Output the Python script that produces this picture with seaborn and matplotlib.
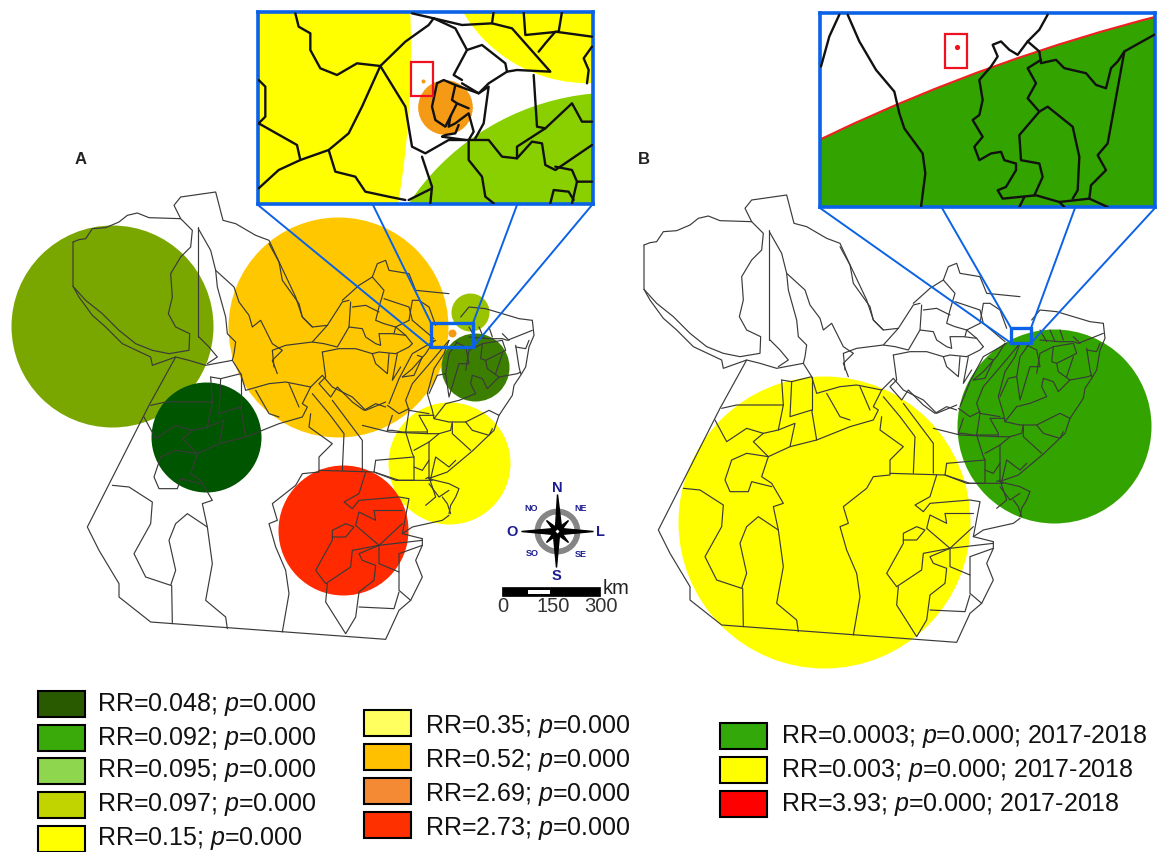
import matplotlib
matplotlib.use("Agg")
import matplotlib.pyplot as plt
from matplotlib.patches import Rectangle
import seaborn as sns

# Limites tracados do mapa (unidades: 3 por pixel)
map_lines = [
    [(12,165),(12,298),(30,330),(70,385),(110,420),(160,470),(245,510),(250,535),(320,510),(360,520),(410,535),(490,520),(515,560)],
    [(12,165),(30,158),(50,155),(70,125),(110,122),(150,105),(175,85),(205,78),(240,92),(335,95),(315,55),(335,30),(440,15),(462,100),(500,110),(560,145),(600,160),(635,235),(680,330),(700,390),(730,420)],
    [(12,298),(50,340),(100,380),(150,430),(200,470),(250,490),(300,500),(360,490),(362,440),(320,420),(298,380),(310,330),(305,260),(335,210),(365,180),(370,130),(335,95)],
    [(388,120),(388,450)],
    [(388,125),(425,190),(440,250),(495,300),(510,345),(540,385),(550,420),(575,400),(610,470),(640,490),(610,520),(625,560)],
    [(440,250),(445,300),(470,390),(475,440),(500,465),(495,500),(490,520)],
    [(390,450),(420,480),(445,510),(415,530)],
    [(320,510),(240,655),(55,1020),(90,1090),(150,1190),(150,1230),(245,1305),(950,1357),(990,1270),(1025,1240),(1060,1170),(1040,1120),(1060,1075),(1060,1055)],
    [(245,655),(290,645),(430,645),(415,720)],
    [(425,570),(455,575),(515,560),(530,610),(600,590),(650,585),(725,600),(760,565),(790,600),(850,630),(890,670),(950,645)],
    [(425,570),(430,645)],
    [(455,575),(450,680),(515,660),(530,750)],
    [(515,560),(515,660)],
    [(225,690),(260,755),(320,715),(370,730),(340,755),(385,800),(450,770),(530,750),(630,710),(700,690),(715,660),(700,650),(725,600)],
    [(560,610),(600,680),(630,690)],
    [(660,590),(690,660)],
    [(370,730),(415,720),(465,700),(450,770)],
    [(385,800),(365,860),(395,880),(430,940),(400,950),(415,1020),(430,1130),(410,1240),(470,1290),(475,1325)],
    [(385,800),(320,790),(275,810),(255,870),(270,905),(325,905),(335,875),(395,890)],
    [(130,895),(180,900),(250,945),(245,1010),(195,1100),(230,1170),(305,1195),(320,1150),(300,1060),(320,1010),(355,980),(415,1020)],
    [(308,1195),(310,1310)],
    [(725,680),(720,720),(790,770),(750,810),(750,855),(700,860),(680,895),(610,950),(625,1000),(600,1010),(620,1080),(650,1150),(660,1220),(640,1335)],
    [(750,850),(915,855),(990,880),(1090,880)],
    [(730,620),(780,680),(825,740),(820,850)],
    [(790,640),(850,720),(880,760),(880,850)],
    [(880,715),(960,735),(1075,740)],
    [(890,855),(870,920),(825,945),(850,965),(870,940),(990,930),(1020,935),(1000,1040),(1060,1055)],
    [(915,970),(1000,970)],
    [(915,970),(920,1000),(870,975),(860,1015),(930,1075),(1000,1010)],
    [(1060,1060),(930,1075),(850,1090),(845,1140),(770,1190),(740,1150),(790,1060),(790,1030),(830,1010),(855,1020),(830,1050),(790,1050)],
    [(930,1075),(870,1100),(880,1120),(920,1135),(915,1180),(870,1215),(860,1290),(830,1340),(770,1245),(775,1190)],
    [(930,1075),(930,1130),(990,1155),(990,1100),(1060,1075)],
    [(990,1155),(990,1210),(1025,1240)],
    [(870,1260),(975,1265),(990,1215)],
    [(1000,1040),(1030,1020),(1120,1000),(1140,985)],
]

# Recorte nordeste (origem 900, 330)
ne_lines = [
    [(490,70),(495,115),(480,150),(470,210),(455,235),(435,265),(430,295),(390,355),(375,400),(310,462),(235,525),(178,545),(240,560),(270,575),(260,600),(245,625),(240,650)],
    [(490,70),(450,65),(400,50),(350,35),(300,30),(275,60)],
    [(240,130),(225,170),(195,215),(175,290),(190,340),(195,365),(230,320),(270,310),(320,290),(305,260),(310,235),(340,245),(355,275),(390,240),(445,230),(455,225)],
    [(195,365),(240,375),(290,375),(360,340),(390,355)],
    [(195,355),(150,355),(175,400),(175,410),(210,410),(245,400),(250,375)],
    [(120,340),(180,350)],
    [(120,340),(110,310),(130,260),(190,190),(240,130)],
    [(55,325),(90,350),(120,335)],
    [(120,340),(110,405),(130,470),(135,480),(135,510),(160,520),(180,490),(180,435),(210,410)],
    [(55,400),(70,400),(100,405),(175,405)],
    [(70,355),(55,400)],
    [(250,380),(250,410),(305,460)],
    [(290,375),(310,400),(360,415),(370,395)],
    [(180,435),(135,460)],
    [(180,490),(180,540),(170,545)],
    [(185,545),(200,480),(240,510),(260,490)],
    [(20,490),(135,480)],
    [(20,490),(15,525),(80,550),(135,550),(135,510)],
    [(100,240),(130,215),(170,170),(195,130)],
    [(100,240),(135,235),(160,180),(145,175)],
    [(60,320),(90,245),(130,170),(200,130)],
    [(180,290),(205,235),(230,230),(240,170),(265,135)],
    [(230,230),(240,300),(270,200),(300,200),(290,150),(260,135)],
    [(290,220),(300,160),(340,140),(400,130),(410,160),(350,190),(355,215),(390,240)],
    [(340,140),(335,185),(350,190)],
    [(400,170),(380,230)],
    [(440,145),(450,210),(455,230)],
    [(440,150),(470,155),(480,130)],
    [(300,120),(360,125),(400,125),(415,130),(490,100)],
    [(300,90),(320,125)],
    [(360,90),(370,120)],
    [(330,90),(345,125)],
    [(400,110),(420,130)],
    [(240,580),(210,600),(180,560)],
    [(220,600),(235,620),(245,650)],
    [(180,540),(200,600),(170,625)],
]

# Recorte norte (origem 600, 150)
north_lines = [
    [(0,20),(30,75),(40,130),(90,200),(100,240),(130,270),(175,265),(220,195),(240,190)],
    [(175,265),(130,315),(50,325),(10,340),(15,390)],
    [(220,190),(270,145),(310,120),(325,80),(350,70),(360,100),(420,110),(440,160),(490,165),(540,170)],
    [(310,120),(345,160),(330,210),(320,250),(345,260),(380,270),(375,290)],
    [(250,210),(290,205),(330,225)],
    [(245,195),(240,270),(205,330),(165,320),(130,315)],
    [(240,270),(280,275),(290,300),(320,320),(335,325),(330,290),(370,290),(410,295),(430,320)],
    [(160,345),(210,335),(260,335),(310,350),(330,345),(380,350),(420,330),(430,320)],
    [(160,345),(170,420),(150,440),(185,480),(205,450),(250,495),(285,520),(320,500),(350,510)],
    [(310,350),(320,380),(355,410),(360,350)],
    [(385,350),(370,430),(395,390)],
    [(345,185),(420,210),(430,250),(495,305)],
    [(420,250),(430,190),(450,190),(480,210),(500,265)],
    [(420,250),(380,270),(410,295)],
]

# Circulos do painel A e B em pixels: x, y, raio, cor
a_x = [112, 206, 338, 470, 475, 449, 343, 452]
a_y = [326, 437, 327, 312, 367, 463, 530, 333]
a_r = [101, 55, 110, 19, 34, 61, 65, 4]
a_colors = ["#7aa600", "#005500", "#ffc700", "#9bc400", "#3c7f00", "#ffff00", "#ff2a00", "#f59a15"]

b_x = [824, 1054]
b_y = [522, 426]
b_r = [146, 97]
b_colors = ["#ffff00", "#33a300"]

# Detalhe A
inset_a_x = [-2323, 1016, 1098, 590, 522]
inset_a_y = [147, -187, 1020, 320, 242]
inset_a_r = [2810, 434, 744, 82, 6]
inset_a_colors = ["#ffff00", "#ffff00", "#8ad000", "#f59a15", "#f59a15"]

inset_a_lines = [
    [(140,40),(150,80),(185,100),(185,150),(215,205),(265,225),(325,190),(395,198),(470,125),(540,75),(555,55),(490,40)],
    [(395,198),(340,320),(300,400),(240,450),(155,480),(90,510),(30,565)],
    [(30,370),(145,435),(155,480)],
    [(240,450),(260,515),(320,530),(350,575),(420,590),(470,600)],
    [(395,198),(470,320),(490,440),(530,460),(600,420),(660,420)],
    [(520,470),(550,560),(545,610)],
    [(480,600),(550,565)],
    [(555,55),(620,85),(655,150),(615,225),(640,240)],
    [(655,150),(700,135),(770,190),(775,215),(720,250),(690,280),(640,250)],
    [(775,215),(805,210),(905,215),(790,85),(730,70),(640,75),(555,55)],
    [(730,70),(735,35)],
    [(825,35),(830,105),(930,95),(940,35)],
    [(870,155),(890,130),(920,95),(1030,110)],
    [(855,225),(865,380),(890,385),(970,310),(1000,365),(1030,365)],
    [(890,385),(805,440),(805,475),(850,425),(880,430),(890,495),(920,510),(1030,435)],
    [(660,420),(720,420),(760,470),(805,475)],
    [(660,420),(660,480),(700,530),(710,590),(735,610)],
    [(920,500),(970,510),(985,545),(1030,545)],
    [(985,545),(970,610)],
    [(905,610),(915,570),(960,575),(975,600)],
    [(565,250),(585,240),(620,255),(610,300),(625,310),(605,350),(600,380),(620,370),(660,340),(675,395),(660,420)],
    [(565,250),(550,320),(560,360),(590,380),(605,350)],
    [(620,255),(690,280),(720,260),(705,370),(680,415)],
    [(625,310),(660,325)],
    [(630,375),(620,400),(590,405),(580,410),(650,420)],
    [(1030,140),(1005,175),(1020,210),(1015,250)],
    [(30,240),(50,260),(50,350),(30,370)],
]

# Detalhe B
inset_b_x = [2386]
inset_b_y = [5278]
inset_b_r = [5415]
inset_b_colors = ["#33a300"]

inset_b_lines = [
    [(35,200),(60,110),(90,45)],
    [(115,45),(150,125),(200,210),(255,275),(270,340),(285,385),(340,460),(348,520),(335,620)],
    [(715,45),(690,90),(655,125),(625,165),(600,150),(575,125),(550,135),(565,170),(545,200),(510,240),(520,300),(510,345),(490,360),(520,410),(495,440),(510,480),(545,460),(575,455),(585,480),(620,490),(620,510),(590,560),(565,570),(580,595),(680,585),(750,605),(840,595),(895,620)],
    [(655,125),(690,155),(695,190),(740,180),(765,205),(830,220),(860,255),(890,265),(905,205),(925,185),(945,155),(1035,105)],
    [(695,180),(655,205),(680,250),(655,295),(690,335),(715,320),(790,380),(810,470),(805,570),(790,595)],
    [(690,335),(630,405),(635,480),(690,490),(700,530),(675,585)],
    [(945,155),(895,430),(865,465),(890,510),(845,555),(840,595)],
    [(630,620),(645,590)],
    [(750,605),(765,620)],
]

# Legendas
legend_a1 = ["0.048", "0.092", "0.095", "0.097", "0.15"]
legend_a1_colors = ["#2a5a00", "#3aaa0a", "#8fd64f", "#c2d400", "#ffff00"]
legend_a1_y = [704, 738, 771, 805, 839]
legend_a2 = ["0.35", "0.52", "2.69", "2.73"]
legend_a2_colors = ["#ffff60", "#ffc000", "#f58a35", "#ff3000"]
legend_a2_y = [723, 757, 791, 825]
legend_b = ["0.0003", "0.003", "3.93"]
legend_b_colors = ["#33a80a", "#ffff00", "#ff0000"]
legend_b_y = [736, 770, 804]

BLUE = "#0b62e6"
NAVY = "#1c1c90"

sns.set_theme(style="white")
plt.rcParams["font.family"] = ["Liberation Sans", "DejaVu Sans"]
plt.rcParams["mathtext.fontset"] = "custom"
plt.rcParams["mathtext.it"] = "Liberation Sans:italic"
plt.rcParams["mathtext.rm"] = "Liberation Sans"


def draw_line(ax, pts, color, lw, zorder=3):
    sns.lineplot(x=[p[0] for p in pts], y=[p[1] for p in pts], sort=False, estimator=None,
                 color=color, linewidth=lw, zorder=zorder, ax=ax, legend=False)


def draw_circles(ax, xs, ys, rs, colors, scale=1.0, edge=None):
    for x, y, r, c in zip(xs, ys, rs, colors):
        size = (2 * r * scale * 0.72) ** 2
        sns.scatterplot(x=[x], y=[y], s=size, color=c, linewidth=1.5 if edge else 0,
                        edgecolor=edge if edge else c, zorder=2, ax=ax, legend=False)


def draw_map(ax, x0, y0):
    for pts in map_lines:
        draw_line(ax, [(x0 + p[0] / 3, y0 + p[1] / 3) for p in pts], "#3a3a3a", 0.85)
    for pts in ne_lines:
        draw_line(ax, [(x0 + (p[0] + 900) / 3, y0 + (p[1] + 330) / 3) for p in pts], "#3a3a3a", 0.85)
    for pts in north_lines:
        draw_line(ax, [(x0 + (p[0] + 600) / 3, y0 + (p[1] + 150) / 3) for p in pts], "#3a3a3a", 0.85)


def finish_inset(ax, xlim, ylim, red_box):
    ax.add_patch(Rectangle((red_box[0], red_box[1]), red_box[2], red_box[3], fill=False,
                           edgecolor="#f01020", linewidth=1.6, zorder=5))
    ax.set_xlim(*xlim)
    ax.set_ylim(*ylim)
    ax.set_xticks([])
    ax.set_yticks([])
    ax.set_xlabel("")
    ax.set_ylabel("")
    for s in ax.spines.values():
        s.set_visible(True)
        s.set_color(BLUE)
        s.set_linewidth(2.6)


def draw_compass(ax, cx, cy):
    ax.add_patch(plt.Circle((cx, cy), 20, fill=False, edgecolor="#858585", linewidth=4.2, zorder=4))
    spikes = [((0, -37), (4, -4), (-2, -3)), ((-1, 36), (-4, 4), (2, 3)),
              ((36, 0), (3, 3), (3, -3)), ((-36, 0), (-3, -3), (-3, 3)),
              ((-11, -11), (-3, 0), (0, -3)), ((11, -11), (3, 0), (0, -3)),
              ((-11, 11), (-3, 0), (0, 3)), ((11, 11), (3, 0), (0, 3))]
    for pts in spikes:
        ax.fill([cx + p[0] for p in pts], [cy + p[1] for p in pts], color="black", zorder=5)
    big = dict(color=NAVY, fontsize=10.5, fontweight="bold", ha="center", va="center")
    small = dict(color=NAVY, fontsize=6.5, fontweight="bold", ha="center", va="center")
    ax.text(cx, cy - 44, "N", **big)
    ax.text(cx - 1, cy + 44, "S", **big)
    ax.text(cx - 45, cy, "O", **big)
    ax.text(cx + 43, cy, "L", **big)
    ax.text(cx - 26, cy - 23, "NO", **small)
    ax.text(cx + 23, cy - 23, "NE", **small)
    ax.text(cx - 25, cy + 22, "SO", **small)
    ax.text(cx + 23, cy + 23, "SE", **small)


def draw_legend(ax, x, x_text, ys, values, colors, suffix="", dy=0):
    for y, v, c in zip(ys, values, colors):
        ax.add_patch(Rectangle((x, y - 13), 47, 26, facecolor=c, edgecolor="black", linewidth=1.5))
        ax.text(x_text, y + dy, f"RR={v}; $\\mathit{{p}}$=0.000{suffix}", fontsize=18,
                color="#111111", va="center", ha="left")


fig = plt.figure(figsize=(11.58, 8.52), dpi=100)
ax = fig.add_axes([0, 0, 1, 1])

draw_circles(ax, a_x, a_y, a_r, a_colors)
draw_map(ax, 69, 187)
draw_circles(ax, b_x, b_y, b_r, b_colors)
draw_map(ax, 640, 190)

# Caixas e ligacoes azuis
for rect in [(431, 323, 42, 24), (1011, 328, 20, 15)]:
    ax.add_patch(Rectangle((rect[0], rect[1]), rect[2], rect[3], fill=False, edgecolor=BLUE,
                           linewidth=2.4, zorder=6))
for pts in [[(258, 205), (431, 347)], [(373, 205), (431, 323)], [(517, 205), (473, 323)], [(592, 205), (473, 347)],
            [(820, 208), (1011, 343)], [(942, 208), (1011, 328)], [(1075, 208), (1031, 328)], [(1155, 208), (1031, 343)]]:
    draw_line(ax, pts, BLUE, 1.4, zorder=6)

ax.text(81, 160, "A", fontsize=12, fontweight="bold", color="#222222", ha="center", va="center")
ax.text(644, 160, "B", fontsize=12, fontweight="bold", color="#222222", ha="center", va="center")

draw_compass(ax, 557.5, 531.5)

# Escala
ax.add_patch(Rectangle((502, 587), 98, 9, facecolor="black", edgecolor="black", linewidth=0.5, zorder=4))
ax.add_patch(Rectangle((528, 589.5), 22, 4.5, facecolor="white", edgecolor="none", zorder=5))
ax.text(603, 588, "km", fontsize=14.5, color="#222222", ha="left", va="center")
for label, xpos in zip(["0", "150", "300"], [503, 553, 601]):
    ax.text(xpos, 607, label, fontsize=14.5, color="#333333", ha="center", va="center")

draw_legend(ax, 38, 97, legend_a1_y, legend_a1, legend_a1_colors)
draw_legend(ax, 364, 425, legend_a2_y, legend_a2, legend_a2_colors, dy=4)
draw_legend(ax, 720, 781, legend_b_y, legend_b, legend_b_colors, "; 2017-2018", dy=1)

ax.set_xlim(0, 1158)
ax.set_ylim(852, 0)
ax.axis("off")

# Detalhe do painel A
ax_a = fig.add_axes([258 / 1158, 1 - 204 / 852, 335 / 1158, 192 / 852])
draw_circles(ax_a, inset_a_x, inset_a_y, inset_a_r, inset_a_colors, scale=1 / 3)
for pts in inset_a_lines:
    draw_line(ax_a, pts, "#111111", 1.7)
finish_inset(ax_a, (28, 1033), (612, 36), (487, 185, 65, 102))

# Detalhe do painel B
ax_b = fig.add_axes([820 / 1158, 1 - 207 / 852, 335 / 1158, 194 / 852])
draw_circles(ax_b, inset_b_x, inset_b_y, inset_b_r, inset_b_colors, scale=1 / 3, edge="#f02020")
sns.scatterplot(x=[442], y=[141], s=14, color="#f01020", linewidth=0, zorder=5, ax=ax_b, legend=False)
for pts in inset_b_lines:
    draw_line(ax_b, pts, "#111111", 1.7)
finish_inset(ax_b, (32, 1037), (620, 40), (407, 103, 66, 102))

plt.savefig("out.png", dpi=100)
